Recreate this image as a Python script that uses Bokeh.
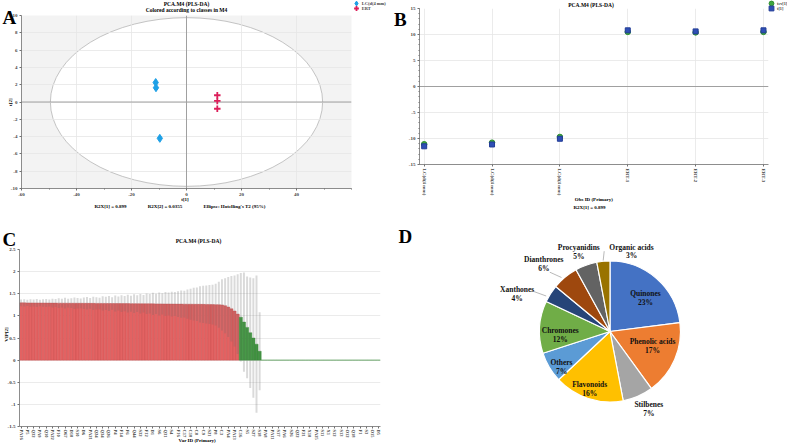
import math
from bokeh.plotting import figure
from bokeh.models import (ColumnDataSource, Label, Legend, LegendItem, FixedTicker, Span, GridBox)
from bokeh.core.properties import value
from bokeh.embed import file_html
from bokeh.resources import INLINE

# ---------------- DATA ----------------
# Panel A : PLS-DA score plot t[1] / t[2]
a_lc_t1 = [-11.2, -11.1, -9.7]
a_lc_t2 = [2.25, 1.65, -4.2]
a_ert_t1 = [11.2, 11.2, 11.2]
a_ert_t2 = [0.78, 0.12, -0.78]
a_ellipse_rx = 49.5
a_ellipse_ry = 9.75
a_x_ticks = [-60, -40, -20, 0, 20, 40]
a_y_ticks = [-10, -8, -6, -4, -2, 0, 2, 4, 6, 8, 10]

# Panel B : t[1] and tcv[1] per observation
b_obs = ["LC(d(4 mm)", "LC(d(4 mm)", "LC(d(4 mm)", "ERT-1", "ERT-2", "ERT-3"]
b_t1 = [-11.5, -11.15, -10.05, 10.8, 10.6, 10.8]
b_tcv1 = [-11.1, -10.8, -9.7, 10.5, 10.4, 10.5]
b_y_ticks = [-15, -10, -5, 0, 5, 10, 15]

# Panel C : VIP with confidence intervals
c_var_labels = ["PA16", "P5", "Q32", "PA9", "Q10", "PA22", "F10", "O67", "D10", "S10",
                "D6", "PA21", "Q24", "Q34", "Q26", "P4", "F14", "F6", "Q44", "S32",
                "F12", "D1", "S6", "Q31", "S4", "F16", "C17", "C18", "C8", "C9",
                "S21", "P8", "C3", "PA4", "PA13", "C16", "S5", "S27", "S18", "PA8",
                "PA11", "S17", "PA6", "S26", "Q22", "F21", "X10", "PA25", "S11", "X1",
                "S12", "S13", "O12", "Q18", "F1", "S3", "O15", "D5"]
c_vip = [1.295, 1.294, 1.293, 1.293, 1.292, 1.292, 1.291, 1.291, 1.290, 1.290,
         1.289, 1.289, 1.288, 1.288, 1.287, 1.287, 1.286, 1.286, 1.285, 1.285,
         1.284, 1.284, 1.283, 1.283, 1.282, 1.282, 1.281, 1.281, 1.280, 1.280,
         1.279, 1.279, 1.278, 1.277, 1.277, 1.276, 1.276, 1.275, 1.274, 1.274,
         1.273, 1.272, 1.272, 1.271, 1.271, 1.270, 1.269, 1.269, 1.268, 1.267,
         1.266, 1.266, 1.265, 1.264, 1.264, 1.263, 1.262, 1.261, 1.260, 1.259,
         1.258, 1.256, 1.254, 1.252, 1.248, 1.230, 1.200, 1.160, 1.110, 1.040,
         0.97, 0.86, 0.74, 0.62, 0.50, 0.36, 0.20] + [0.0] * 38
c_ci = [0.075, 0.08, 0.07, 0.085, 0.08, 0.09, 0.075, 0.085, 0.09, 0.08,
        0.10, 0.09, 0.11, 0.10, 0.12, 0.10, 0.11, 0.13, 0.12, 0.11,
        0.13, 0.14, 0.12, 0.15, 0.14, 0.13, 0.16, 0.15, 0.17, 0.14,
        0.18, 0.16, 0.19, 0.17, 0.20, 0.18, 0.21, 0.19, 0.22, 0.20,
        0.23, 0.22, 0.25, 0.23, 0.26, 0.24, 0.27, 0.26, 0.28, 0.27,
        0.29, 0.31, 0.30, 0.33, 0.35, 0.37, 0.38, 0.41, 0.42, 0.43,
        0.44, 0.45, 0.47, 0.52, 0.58, 0.62, 0.68, 0.74, 0.80, 0.90,
        1.00, 1.12, 1.15, 1.25, 1.35, 1.55, 0.88] + [0.0] * 38
c_y_ticks = [-1.5, -1, -0.5, 0, 0.5, 1, 1.5, 2, 2.5]

# Panel D : compound classes
d_classes = ["Quinones", "Phenolic acids", "Stilbenes", "Flavonoids", "Others",
             "Chromones", "Xanthones", "Dianthrones", "Procyanidins", "Organic acids"]
d_pct = [23, 17, 7, 16, 7, 12, 4, 6, 5, 3]
d_colors = ["#4472C4", "#ED7D31", "#A5A5A5", "#FFC000", "#5B9BD5",
            "#70AD47", "#264478", "#9E480E", "#636363", "#997300"]

# ---------------- HELPERS ----------------
FONT = "Liberation Serif"
W, H = 787, 446


def fmt(v):
    return "%g" % v


def style(p):
    p.outline_line_color = None
    p.title.visible = False
    for ax in p.axis:
        ax.major_label_text_font = FONT
        ax.major_label_text_font_style = "bold"
        ax.major_label_text_font_size = "5px"
        ax.axis_line_color = "#707070"
        ax.major_tick_line_color = "#707070"
        ax.minor_tick_line_color = "#707070"
        ax.major_tick_in = 0
        ax.major_tick_out = 2
        ax.minor_tick_in = 0
        ax.minor_tick_out = 1
        ax.major_label_standoff = 2
        ax.axis_line_width = 0.8
    p.grid.grid_line_color = "#e6e6e6"
    p.grid.grid_line_width = 0.8


COMMON = dict(output_backend="svg", toolbar_location=None, frame_align=False)

# ---------------- PANEL A ----------------
pA = figure(width=392, height=222, x_range=(-60, 60), y_range=(-10, 10),
            min_border_left=21, min_border_right=41, min_border_top=15, min_border_bottom=34,
            **COMMON)
style(pA)
pA.background_fill_color = "#f3f3f3"
pA.xaxis.ticker = FixedTicker(ticks=a_x_ticks, minor_ticks=list(range(-60, 61, 10)))
pA.yaxis.ticker = FixedTicker(ticks=a_y_ticks, minor_ticks=[])
pA.xaxis.major_label_overrides = {t: fmt(t) for t in a_x_ticks}
pA.yaxis.major_label_overrides = {t: fmt(t) for t in a_y_ticks}
pA.ellipse(x=[0], y=[0], width=[2 * a_ellipse_rx], height=[2 * a_ellipse_ry],
           fill_color="white", line_color="#b5b5b5", line_width=0.8, level="image")
pA.add_layout(Span(location=0, dimension="width", line_color="#a0a0a0", line_width=1, level="underlay"))
pA.add_layout(Span(location=0, dimension="height", line_color="#a0a0a0", line_width=1, level="underlay"))
A_BLUE, A_RED = "#1ea0e6", "#dc1f5a"
pA.scatter(a_lc_t1, a_lc_t2, marker="diamond", size=8, fill_color=A_BLUE, line_color=A_BLUE)
pA.scatter(a_ert_t1, a_ert_t2, marker="cross", size=6.5, line_color=A_RED, line_width=1.8)

# ---------------- PANEL B ----------------
pB = figure(width=395, height=222, x_range=(-0.069, 5.074), y_range=(-15, 15),
            min_border_left=27, min_border_right=19, min_border_top=8, min_border_bottom=58,
            **COMMON)
style(pB)
b_x = list(range(len(b_obs)))
pB.xaxis.ticker = FixedTicker(ticks=b_x, minor_ticks=[])
pB.xaxis.major_label_overrides = {i: s for i, s in zip(b_x, b_obs)}
pB.xaxis.major_label_orientation = "vertical"
pB.yaxis.ticker = FixedTicker(ticks=b_y_ticks, minor_ticks=list(range(-15, 16, 1)))
pB.yaxis.major_label_overrides = {t: fmt(t) for t in b_y_ticks}
pB.add_layout(Span(location=0, dimension="width", line_color="#a0a0a0", line_width=1, level="underlay"))
B_GREEN, B_BLUE = "#3fa63f", "#2f4fb5"
pB.scatter(b_x, b_tcv1, marker="circle", size=5.5, fill_color=B_GREEN, line_color="#2f8f2f")
pB.scatter(b_x, b_t1, marker="square", size=5, fill_color=B_BLUE, line_color="#233d96")

# ---------------- PANEL C ----------------
n = len(c_vip)
pC = figure(width=392, height=224, x_range=(-0.5, n - 0.5), y_range=(-1.5, 2.5),
            min_border_left=19, min_border_right=12, min_border_top=27, min_border_bottom=20,
            **COMMON)
style(pC)
pC.xgrid.visible = False
c_x = list(range(n))
c_ticks = c_x[::2]
pC.xaxis.ticker = FixedTicker(ticks=c_ticks, minor_ticks=[])
pC.xaxis.major_label_overrides = {i: s for i, s in zip(c_ticks, c_var_labels)}
pC.xaxis.major_label_orientation = "vertical"
pC.xaxis.major_label_text_font_size = "4.5px"
pC.xaxis.major_label_standoff = 1
pC.yaxis.ticker = FixedTicker(ticks=c_y_ticks, minor_ticks=[])
pC.yaxis.major_label_overrides = {t: fmt(t) for t in c_y_ticks}
fills = ["#e36262" if v >= 1 else "#3d9b3d" for v in c_vip]
lines = ["#c44e4e" if v >= 1 else "#2f862f" for v in c_vip]
srcC = ColumnDataSource(dict(x=c_x, top=c_vip, fill=fills, line=lines,
                             lo=[v - e for v, e in zip(c_vip, c_ci)],
                             hi=[v + e for v, e in zip(c_vip, c_ci)]))
pC.vbar(x="x", top="top", bottom=0, width=1.0, fill_color="fill", line_color="line",
        line_width=0.4, source=srcC)
pC.vbar(x="x", top="hi", bottom="lo", width=0.62, fill_color="#6a6a6a", fill_alpha=0.25,
        line_color=None, source=srcC)

# ---------------- PANEL D ----------------
DX0, DY0, WD, HD = 392, 222, 395, 224
pD = figure(width=WD, height=HD, x_range=(0, WD), y_range=(0, HD), min_border=0,
            x_axis_location=None, y_axis_location=None, **COMMON)
pD.grid.visible = False
pD.outline_line_color = None
pD.title.visible = False


def d_xy(X, Y):
    return X - DX0, HD - (Y - DY0)


pie_cx, pie_cy = d_xy(609.5, 331)
pie_r = 70.5
tot = float(sum(d_pct))
cum = [0.0]
for v in d_pct:
    cum.append(cum[-1] + v / tot)
starts = [math.pi / 2 - 2 * math.pi * cum[i + 1] for i in range(len(d_pct))]
ends = [math.pi / 2 - 2 * math.pi * cum[i] for i in range(len(d_pct))]
srcD = ColumnDataSource(dict(start=starts, end=ends, color=d_colors))
pD.wedge(x=pie_cx, y=pie_cy, radius=pie_r, start_angle="start", end_angle="end",
         fill_color="color", line_color="white", line_width=1.2, source=srcD)

# label anchor positions (pixel centres of each two-line label)
d_label_pos = [(645, 297.2), (652, 345.2), (648.3, 408.7), (589.2, 388.8), (561, 366.8),
               (559.7, 334.3), (516.7, 293.5), (543.3, 263.8), (578.3, 251.8), (631, 251)]
lx, ly, lt = [], [], []
for (X, Y), name, pct in zip(d_label_pos, d_classes, d_pct):
    x1, y1 = d_xy(X, Y - 4.4)
    x2, y2 = d_xy(X, Y + 4.4)
    lx += [x1, x2]
    ly += [y1, y2]
    lt += [name, f"{pct}%"]
pD.text(x=lx, y=ly, text=lt, text_font=value(FONT), text_font_style="bold",
        text_font_size=value("7.5px"), text_align="center", text_baseline="middle",
        text_color="#111111")
leaders = [((533.3, 291), (545.7, 295.5)), ((549.3, 271.7), (561, 277)),
           ((603.7, 250.7), (602.7, 260))]
sx0, sy0, sx1, sy1 = [], [], [], []
for (a, b) in leaders:
    x0, y0 = d_xy(*a)
    x1, y1 = d_xy(*b)
    sx0.append(x0); sy0.append(y0); sx1.append(x1); sy1.append(y1)
pD.segment(x0=sx0, y0=sy0, x1=sx1, y1=sy1, line_color="#a6a6a6", line_width=0.8)

# ---------------- TEXT / LEGEND OVERLAY (page pixel coordinates) ----------------
ov = figure(width=W, height=H, x_range=(0, W), y_range=(H, 0), min_border=0,
            x_axis_location=None, y_axis_location=None,
            background_fill_alpha=0, border_fill_alpha=0, **COMMON)
ov.grid.visible = False
ov.outline_line_color = None
ov.title.visible = False


def txt(X, Y, text, size, align="center", baseline="middle", angle=0.0):
    ov.add_layout(Label(x=X, y=Y, text=text, text_font=FONT, text_font_style="bold",
                        text_font_size=f"{size}px", text_align=align, text_baseline=baseline,
                        angle=angle, text_color="black"))


def legend_item(marker, size, fill, line, lw, label, X, Y, fs="4.5px"):
    # legend key proxy: a single off-canvas point styled like the series
    proxy = ov.scatter(x=[-100], y=[-100], marker=marker, size=size, fill_color=fill,
                       line_color=line, line_width=lw)
    box = 12
    lg = Legend(items=[LegendItem(label=label, renderers=[proxy])],
                location=(X - box / 2, H - (Y + box / 2)),
                glyph_width=box, glyph_height=box, label_height=box, label_standoff=-3,
                padding=0, margin=0, spacing=0, border_line_color=None,
                background_fill_alpha=0, label_text_font=FONT,
                label_text_font_style="bold", label_text_font_size=fs,
                label_text_baseline="middle")
    ov.add_layout(lg)


# panel A texts
txt(2, 17.2, "A", 19, align="left", baseline="alphabetic")
txt(186, 3.8, "PCA.M4 (PLS-DA)", 5.5)
txt(186, 9.3, "Colored according to classes in M4", 5.5)
txt(10, 101.7, "t[2]", 5, angle=math.pi / 2)
txt(184.5, 199, "t[1]", 5)
txt(110, 206, "R2X[1] = 0.899", 5)
txt(164.5, 206, "R2X[2] = 0.0355", 5)
txt(234, 206, "Ellipse: Hotelling's T2 (95%)", 5)
legend_item("diamond", 8, A_BLUE, A_BLUE, 1, "LC(d(4 mm)", 355.7, 3.0)
legend_item("cross", 7, None, A_RED, 1.8, "ERT", 355.7, 8.4)
# panel B texts
txt(393.5, 18.5, "B", 19, align="left", baseline="alphabetic")
txt(590.5, 4, "PCA.M4 (PLS-DA)", 5.5)
txt(593.3, 199.3, "Obs ID (Primary)", 5)
txt(589, 206.7, "R2X[1] = 0.899", 5)
legend_item("circle", 5.5, B_GREEN, "#2f8f2f", 1, "tcv[1]", 771, 3.0, fs="4.2px")
legend_item("square", 5, B_BLUE, "#233d96", 1, "t[1]", 771, 8.4, fs="4.2px")
# panel C texts
txt(2, 238.5, "C", 19, align="left", baseline="alphabetic")
txt(198, 240, "PCA.M4 (PLS-DA)", 5.5)
txt(6, 334, "VIP[2]", 5, angle=math.pi / 2)
txt(196.7, 440, "Var ID (Primary)", 5)
# panel D letter
txt(398, 235.5, "D", 19, align="left", baseline="alphabetic")

layout = GridBox(children=[(pA, 0, 0), (pB, 0, 1), (pC, 1, 0), (pD, 1, 1), (ov, 0, 0, 2, 2)],
                 spacing=0)
open("out.html", "w").write(file_html(layout, INLINE))
